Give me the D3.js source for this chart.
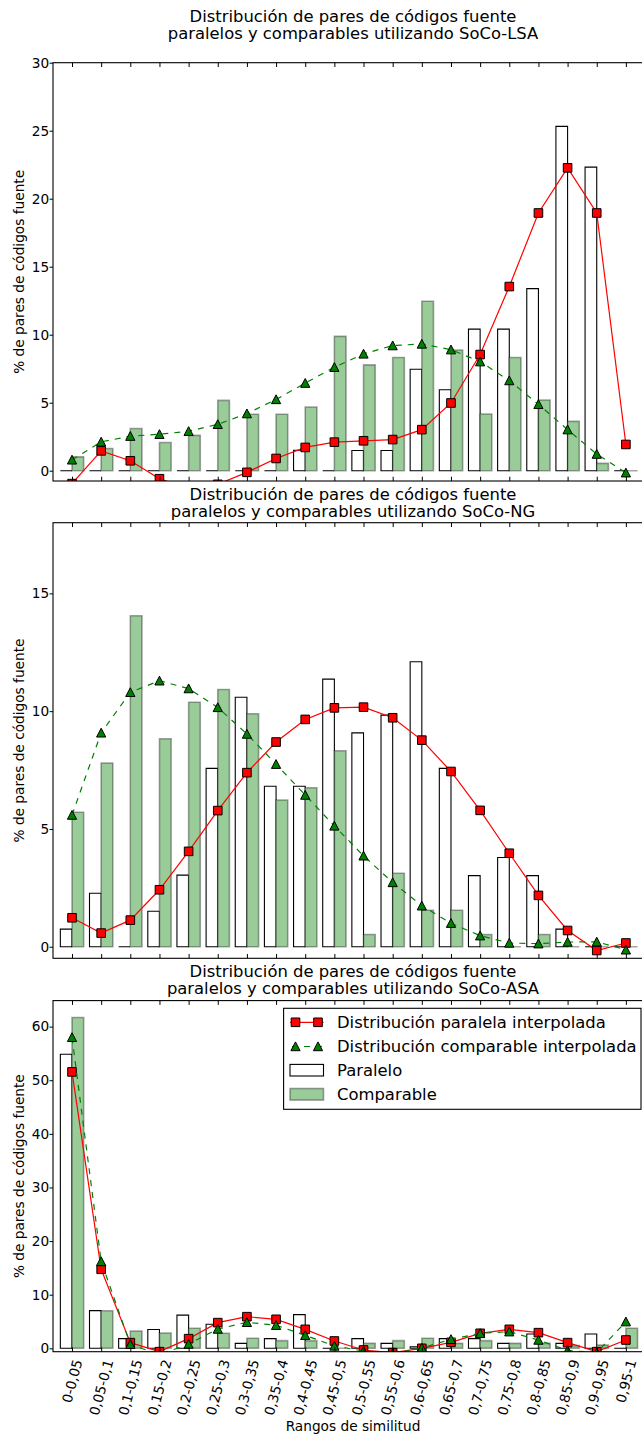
<!DOCTYPE html>
<html>
<head>
<meta charset="utf-8">
<script src="https://cdn.jsdelivr.net/npm/d3@7"></script>
<style>
  html, body { margin: 0; padding: 0; background: #fff; }
  svg { display: block; }
  text { font-family: "DejaVu Sans", sans-serif; fill: #000; }
</style>
</head>
<body>
<svg id="chart" width="642" height="1437"></svg>
<script>
// ---------------- DATA ----------------
const categories = ["0-0,05","0,05-0,1","0,1-0,15","0,15-0,2","0,2-0,25","0,25-0,3","0,3-0,35","0,35-0,4","0,4-0,45","0,45-0,5","0,5-0,55","0,55-0,6","0,6-0,65","0,65-0,7","0,7-0,75","0,75-0,8","0,8-0,85","0,85-0,9","0,9-0,95","0,95-1"];

// SoCo-LSA
const lsaParalelo    = [0,0,0,0,0,0,0,0,1.5,0,1.49,1.49,7.46,5.95,10.41,10.41,13.39,25.32,22.32,0];
const lsaComparable  = [1.02,1.63,3.1,2.07,2.6,5.17,4.15,4.15,4.68,9.88,7.78,8.32,12.46,8.88,4.17,8.32,5.2,3.63,0.54,0];
const lsaParInterp   = [-0.95,1.46,0.73,-0.59,-1.3,-1.0,-0.12,0.9,1.71,2.1,2.2,2.29,3.02,4.98,8.54,13.54,18.95,22.27,18.95,1.93];
const lsaCompInterp  = [0.8,2.12,2.54,2.68,2.9,3.41,4.2,5.24,6.44,7.61,8.59,9.2,9.32,8.9,8.02,6.63,4.88,3.02,1.22,-0.15];

// SoCo-NG
const ngParalelo     = [0.75,2.27,0,1.51,3.04,7.57,10.59,6.81,6.81,11.36,9.08,9.83,12.1,7.57,3.02,3.79,3.02,0.75,0,0];
const ngComparable   = [5.71,7.8,14.05,8.83,10.38,10.92,9.89,6.23,6.75,8.32,0.52,3.12,1.55,1.55,0.52,0,0.52,0,0,0];
const ngParInterp    = [1.23,0.58,1.13,2.42,4.05,5.78,7.39,8.69,9.65,10.14,10.17,9.72,8.77,7.44,5.79,3.97,2.18,0.69,-0.16,0.16];
const ngCompInterp   = [5.59,9.08,10.8,11.29,10.96,10.16,9.03,7.75,6.44,5.13,3.86,2.73,1.74,1.0,0.47,0.16,0.13,0.2,0.21,-0.13];

// SoCo-ASA
const asaParalelo    = [54.85,7.03,1.8,3.5,6.2,4.48,0.93,1.8,6.28,0,1.8,0.93,0.3,1.8,1.8,0.93,2.67,0.93,2.67,0];
const asaComparable  = [61.7,7.0,3.23,2.85,3.73,2.8,1.87,1.43,1.43,0,0.93,1.43,1.87,0.93,1.43,0.93,0.93,0.5,0.6,3.73];
const asaParInterp   = [51.55,14.74,1.06,-0.62,1.8,4.79,5.9,5.41,3.54,1.37,-0.31,-0.81,0,1.12,2.8,3.54,2.92,1.06,-0.62,1.55];
const asaCompInterp  = [58,16.2,0.75,-1.2,0.8,3.6,4.85,4.3,2.43,0.44,-0.5,-1.0,0.06,1.68,2.8,3.1,1.55,-0.4,-0.8,4.97];

const lsaTicks = [0,5,10,15,20,25,30];
const ngTicks  = [0,5,10,15];
const asaTicks = [0,10,20,30,40,50,60];

const titleLine1 = "Distribución de pares de códigos fuente";
const titleLine2 = ["paralelos y comparables utilizando SoCo-LSA",
                    "paralelos y comparables utilizando SoCo-NG",
                    "paralelos y comparables utilizando SoCo-ASA"];
const yLabel = "% de pares de códigos fuente";
const xLabel = "Rangos de similitud";
const legendLabels = ["Distribución paralela interpolada","Distribución comparable interpolada","Paralelo","Comparable"];

// ---------------- LAYOUT ----------------
const svg = d3.select("#chart");
svg.append("rect").attr("width",642).attr("height",1437).attr("fill","#fff");

const FS = 13.7, FL = 16.4;
const AX_L = 53, AX_R = 653;
const x = d3.scaleLinear().domain([-0.652, 19.93]).range([AX_L, AX_R]);
const BW = 0.4;

const panels = [
  {top:62.7, bottom:481, domain:[-0.757,30], ticks:lsaTicks, par:lsaParalelo, comp:lsaComparable, pi:lsaParInterp, ci:lsaCompInterp, t1:21.7, t2:39.3, title2:titleLine2[0]},
  {top:522.7, bottom:958.3, domain:[-0.49,18], ticks:ngTicks, par:ngParalelo, comp:ngComparable, pi:ngParInterp, ci:ngCompInterp, t1:500, t2:516.8, title2:titleLine2[1]},
  {top:1000.6, bottom:1351.7, domain:[-0.63,64.85], ticks:asaTicks, par:asaParalelo, comp:asaComparable, pi:asaParInterp, ci:asaCompInterp, t1:976.5, t2:993.5, title2:titleLine2[2], last:true}
];

const GREEN_FILL = "rgb(153,204,153)";
const GREEN_EDGE = "rgba(0,0,0,0.35)";
const sqPath = "M-4.3,-4.3H4.3V4.3H-4.3Z";
const triPath = "M0,-4.6L4.6,4.2L-4.6,4.2Z";

function barPath(x0, x1, y0, y1) {
  const p = d3.path();
  p.moveTo(x0, y0); p.lineTo(x1, y0); p.lineTo(x1, y1); p.lineTo(x0, y1); p.closePath();
  return p.toString();
}

panels.forEach((P, pi) => {
  const y = d3.scaleLinear().domain(P.domain).range([P.bottom, P.top]);
  const g = svg.append("g");
  const clipId = "clip" + pi;
  svg.append("clipPath").attr("id", clipId).append("rect")
    .attr("x", AX_L).attr("y", P.top).attr("width", AX_R - AX_L).attr("height", P.bottom - P.top);

  const plot = g.append("g").attr("clip-path", `url(#${clipId})`);
  const idx = d3.range(categories.length);

  plot.selectAll("path.par").data(idx).join("path").attr("class","par")
    .attr("d", i => barPath(x(i - BW), x(i), y(0), y(P.par[i])))
    .attr("fill", "#fff").attr("stroke", "#000").attr("stroke-width", 1.1);
  plot.selectAll("path.comp").data(idx).join("path").attr("class","comp")
    .attr("d", i => barPath(x(i), x(i + BW), y(0), y(P.comp[i])))
    .attr("fill", GREEN_FILL).attr("stroke", GREEN_EDGE).attr("stroke-width", 1.6);

  const line = d3.line().x((d,i) => x(i)).y(d => y(d));
  plot.append("path").attr("d", line(P.pi)).attr("fill","none").attr("stroke","#ff0000").attr("stroke-width",1.2);
  plot.selectAll("path.sq").data(P.pi).join("path").attr("class","sq")
    .attr("transform", (d,i) => `translate(${x(i)},${y(d)})`)
    .attr("d", sqPath).attr("fill","#ff0000").attr("stroke","#000").attr("stroke-width",1);
  plot.append("path").attr("d", line(P.ci)).attr("fill","none").attr("stroke","#008000").attr("stroke-width",1.2)
    .attr("stroke-dasharray","6,6");
  plot.selectAll("path.tri").data(P.ci).join("path").attr("class","tri")
    .attr("transform", (d,i) => `translate(${x(i)},${y(d)})`)
    .attr("d", triPath).attr("fill","#008000").attr("stroke","#000").attr("stroke-width",1);

  g.append("rect").attr("x", AX_L).attr("y", P.top).attr("width", AX_R - AX_L).attr("height", P.bottom - P.top)
    .attr("fill","none").attr("stroke","#000").attr("stroke-width",1.1);

  const yAxis = d3.axisLeft(y).tickValues(P.ticks).tickSizeInner(3.5).tickSizeOuter(0).tickPadding(0.3).tickFormat(d3.format("d"));
  const ya = g.append("g").attr("transform", `translate(${AX_L},0)`).call(yAxis);
  ya.select(".domain").remove();
  ya.selectAll("text").attr("font-size", FS).attr("font-family", "DejaVu Sans").attr("fill","#000");
  ya.selectAll("line").attr("stroke","#000");

  const xb = d3.axisBottom(x).tickValues(idx).tickSizeInner(-4.3).tickSizeOuter(0).tickFormat("");
  const xba = g.append("g").attr("transform", `translate(0,${P.bottom})`).call(xb);
  xba.select(".domain").remove();
  xba.selectAll("line").attr("stroke","#000");
  const xt = d3.axisTop(x).tickValues(idx).tickSizeInner(-4.3).tickSizeOuter(0).tickFormat("");
  const xta = g.append("g").attr("transform", `translate(0,${P.top})`).call(xt);
  xta.select(".domain").remove();
  xta.selectAll("line").attr("stroke","#000");

  const cx = (AX_L + AX_R) / 2;
  g.append("text").attr("x", cx).attr("y", P.t1).attr("text-anchor","middle").attr("font-size",FL).text(titleLine1);
  g.append("text").attr("x", cx).attr("y", P.t2).attr("text-anchor","middle").attr("font-size",FL).text(P.title2);

  const yc = (P.top + P.bottom) / 2;
  g.append("text").attr("transform", `translate(19,${yc}) rotate(-90)`).attr("text-anchor","middle")
    .attr("dominant-baseline","central").attr("font-size",FS).text(yLabel);

  if (P.last) {
    const theta = 75 * Math.PI / 180;
    const top = P.bottom + 6;
    idx.forEach(i => {
      const t = g.append("text").attr("font-size", FS).attr("text-anchor","middle")
        .attr("dominant-baseline","central").text(categories[i]);
      const L = t.node().getComputedTextLength();
      const h = FS * 1.15;
      const Hb = L * Math.sin(theta) + h * Math.cos(theta);
      t.attr("transform", `translate(${x(i)},${top + Hb / 2}) rotate(-75)`);
    });
    g.append("text").attr("x", cx).attr("y", 1430.5).attr("text-anchor","middle").attr("font-size",FS).text(xLabel);

    const lg = g.append("g");
    const LX0 = 283.6, LX1 = 641, LY0 = 1008.3, LY1 = 1109.3;
    lg.append("rect").attr("x", LX0).attr("y", LY0).attr("width", LX1 - LX0).attr("height", LY1 - LY0)
      .attr("fill","#fff").attr("stroke","#000").attr("stroke-width",1.1);
    const rows = [1022.3, 1046.5, 1070.2, 1094.3];
    const hx0 = 290, hx1 = 323.5;
    lg.append("line").attr("x1",hx0).attr("x2",hx1).attr("y1",rows[0]).attr("y2",rows[0]).attr("stroke","#ff0000").attr("stroke-width",1.2);
    [295.5, 318].forEach(mx => lg.append("path").attr("d", sqPath).attr("transform",`translate(${mx},${rows[0]})`)
      .attr("fill","#ff0000").attr("stroke","#000").attr("stroke-width",1));
    lg.append("line").attr("x1",hx0).attr("x2",hx1).attr("y1",rows[1]).attr("y2",rows[1]).attr("stroke","#008000").attr("stroke-width",1.2).attr("stroke-dasharray","6,6").attr("stroke-dashoffset",-2);
    [295.5, 318].forEach(mx => lg.append("path").attr("d", triPath).attr("transform",`translate(${mx},${rows[1]})`)
      .attr("fill","#008000").attr("stroke","#000").attr("stroke-width",1));
    lg.append("rect").attr("x",hx0).attr("y",rows[2]-5.8).attr("width",hx1-hx0).attr("height",11.6)
      .attr("fill","#fff").attr("stroke","#000").attr("stroke-width",1.1);
    lg.append("rect").attr("x",hx0).attr("y",rows[3]-5.8).attr("width",hx1-hx0).attr("height",11.6)
      .attr("fill",GREEN_FILL).attr("stroke",GREEN_EDGE).attr("stroke-width",1.6);
    legendLabels.forEach((lab, k) => {
      lg.append("text").attr("x", 337).attr("y", rows[k]).attr("dominant-baseline","central").attr("font-size",FL).text(lab);
    });
  }
});
</script>
</body>
</html>
